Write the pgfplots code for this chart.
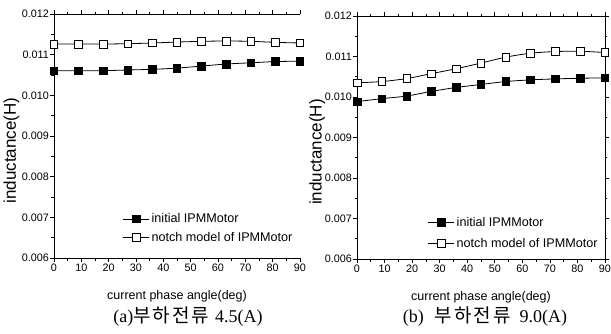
\documentclass[border=0pt]{standalone}
\usepackage{fontspec}
\usepackage{pgfplots}
\pgfplotsset{compat=1.18}
\setmainfont{Liberation Sans}
\newfontfamily\capfont{Liberation Serif}
\newfontfamily\kr{Noto Sans CJK KR}

\pgfplotstableread{
x a b
0  0.010607 0.011262
9  0.010607 0.011262
18 0.010607 0.011262
27 0.010623 0.011270
36 0.010640 0.011287
45 0.010670 0.011310
54 0.010720 0.011328
63 0.010770 0.011336
72 0.010800 0.011328
81 0.010830 0.011303
90 0.010840 0.011287
}\tabA
\pgfplotstableread{
x a b
0  0.009886 0.010350
9  0.009959 0.010382
18 0.010024 0.010455
27 0.010138 0.010577
36 0.010236 0.010699
45 0.010309 0.010837
54 0.010382 0.010984
63 0.010423 0.011081
72 0.010447 0.011122
81 0.010463 0.011130
90 0.010472 0.011098
}\tabB

\newcommand\legfont{\fontsize{12.6}{14}\selectfont}
\pgfplotsset{
  filled/.style={black, line width=0.8pt, smooth, mark=square*, mark size=3.8pt, mark options={fill=black, solid, line width=0.6pt}},
  hollow/.style={black, line width=0.8pt, smooth, mark=square*, mark size=3.8pt, mark options={fill=white, solid, line width=0.6pt}},
  myax/.style={
    scale only axis,
    xmin=0, xmax=90, ymin=0.006, ymax=0.012,
    xtick={0,10,...,90}, minor x tick num=1,
    ytick={0.006,0.007,...,0.0125}, minor y tick num=1,
    scaled y ticks=false,
    tick align=outside,
    major tick length=4pt, minor tick length=2.5pt,
    tick style={black, line width=0.6pt},
    axis line style={line width=0.8pt},
    yticklabel style={inner sep=1pt, /pgf/number format/.cd, fixed, fixed zerofill, precision=3, assume math mode},
    xticklabel style={inner sep=1.5pt, /pgf/number format/assume math mode},
    ticklabel style={font=\fontsize{10.8}{12}\selectfont},
    xlabel={current phase angle(deg)},
    ylabel={inductance(H)},
    legend style={draw=none, fill=none, font=\legfont, nodes={font=\legfont},
      cells={anchor=west}, inner sep=0pt, outer sep=0pt,
      /tikz/every even column/.append style={column sep=3pt}},
    legend image code/.code={\draw[mark repeat=2,mark phase=2] plot coordinates {(0pt,0pt)(13pt,0pt)(26pt,0pt)};},
  }
}

\begin{document}
\begin{tikzpicture}
\useasboundingbox (0,0) rectangle (611pt,333pt);
\clip (0,0) rectangle (611pt,333pt);
\begin{axis}[myax, at={(54pt,75pt)}, anchor=south west, width=246pt, height=244pt,
  axis x line=box, axis y line*=left,
  xlabel style={font=\fontsize{12.5}{14}\selectfont, anchor=center, at={(axis description cs:0.5,-0.156)}},
  ylabel style={font=\fontsize{17}{19}\selectfont, anchor=center, at={(axis description cs:-0.173,0.44)}},
  legend style={at={(axis description cs:0.28,0.19)}, anchor=north west, row sep=4pt}]
\addplot[filled] table[x=x,y=a]{\tabA};
\addplot[hollow] table[x=x,y=b]{\tabA};
\legend{{\legfont initial IPMMotor}, {\legfont notch model of IPMMotor}}
\end{axis}
\begin{axis}[myax, at={(357pt,74pt)}, anchor=south west, width=248pt, height=243pt,
  xlabel style={font=\fontsize{12.5}{14}\selectfont, anchor=center, at={(axis description cs:0.5,-0.156)}},
  ylabel style={font=\fontsize{17}{19}\selectfont, anchor=center, at={(axis description cs:-0.16,0.44)}},
  legend style={at={(axis description cs:0.286,0.18)}, anchor=north west, row sep=6pt}]
\addplot[filled] table[x=x,y=a]{\tabB};
\addplot[hollow] table[x=x,y=b]{\tabB};
\legend{{\legfont initial IPMMotor}, {\legfont notch model of IPMMotor}}
\end{axis}
\node at (188pt,16pt) {{\capfont\fontsize{18}{20}\selectfont (a)}{\kr\fontsize{19}{20}\selectfont 부\hspace{2pt}하\hspace{2pt}전\hspace{2pt}류}\hspace{6pt}{\capfont\fontsize{18}{20}\selectfont 4.5(A)}};
\node at (485pt,16pt) {{\capfont\fontsize{18}{20}\selectfont (b)}\hspace{11pt}{\kr\fontsize{19}{20}\selectfont 부\hspace{2pt}하\hspace{2pt}전\hspace{2pt}류}\hspace{9pt}{\capfont\fontsize{18}{20}\selectfont 9.0(A)}};
\end{tikzpicture}
\end{document}
